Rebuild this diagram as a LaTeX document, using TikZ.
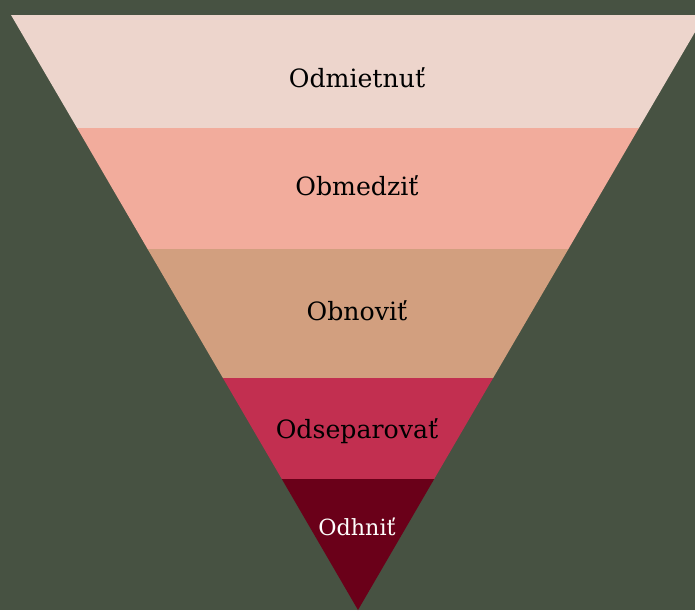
\documentclass[tikz,border=0pt]{standalone}
\usepackage{fontspec}
\setmainfont{DejaVu Serif}
\definecolor{bggreen}{HTML}{475242}
\definecolor{bandA}{HTML}{EDD5CC}
\definecolor{bandB}{HTML}{F2AC9C}
\definecolor{bandC}{HTML}{D29F7F}
\definecolor{bandD}{HTML}{C22F50}
\definecolor{bandE}{HTML}{6A0019}
\begin{document}
\begin{tikzpicture}[x=0.03cm,y=-0.03cm,
        lbl/.style={font=\fontsize{21.5}{24}\selectfont,text=black}]
        % background and canvas
        \fill[bggreen] (0,0) rectangle (695,610);
        \useasboundingbox (0,0) rectangle (695,610);
        \clip (0,0) rectangle (695,610);

        % the bands of the funnel, top to bottom
        \fill[bandA] (11,15) -- (705,15) -- (638.9,128) -- (77.1,128) -- cycle;
        \fill[bandB] (77.1,128) -- (638.9,128) -- (568.4,249) -- (147.6,249) -- cycle;
        \fill[bandC] (147.6,249) -- (568.4,249) -- (493.1,378) -- (222.9,378) -- cycle;
        \fill[bandD] (222.9,378) -- (493.1,378) -- (434.2,479) -- (281.8,479) -- cycle;
        \fill[bandE] (281.8,479) -- (434.2,479) -- (358,610) -- cycle;

        \draw (357,78) node[lbl](odm) {Odmietnuť}
              (357,186) node[lbl](obm) {Obmedziť}
              (357,311) node[lbl](obn) {Obnoviť}
              (357,431) node[lbl](ods) {Odseparovať}
              (357,527) node[lbl,font=\fontsize{19}{22}\selectfont,text=white!95!bandA](odh) {Odhniť};
    \end{tikzpicture}
\end{document}
